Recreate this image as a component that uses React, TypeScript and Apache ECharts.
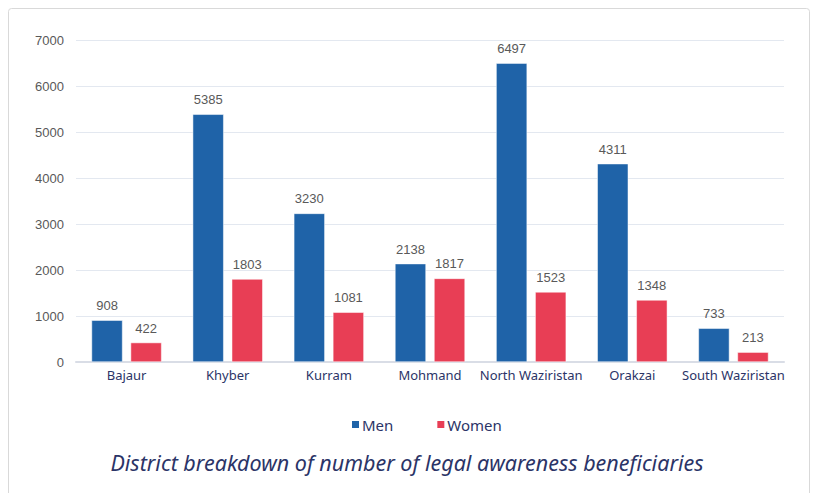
import React, { useEffect, useRef } from "react";
import * as echarts from "echarts";

const categories = ["Bajaur", "Khyber", "Kurram", "Mohmand", "North Waziristan", "Orakzai", "South Waziristan"];
const menValues = [908, 5385, 3230, 2138, 6497, 4311, 733];
const womenValues = [422, 1803, 1081, 1817, 1523, 1348, 213];
const seriesNames = ["Men", "Women"];
const titleText = "District breakdown of number of legal awareness beneficiaries";

export default function App() {
  const ref = useRef<HTMLDivElement>(null);
  useEffect(() => {
    if (!ref.current) return;
    const chart = echarts.init(ref.current, undefined, { renderer: "svg" });
    const labelStyle = {
      show: true,
      position: "top" as const,
      distance: 8,
      color: "#595959",
      fontSize: 13,
      fontFamily: "Liberation Sans, Arial, sans-serif",
    };
    chart.setOption({
      animation: false,
      backgroundColor: "#ffffff",
      graphic: [
        {
          type: "rect",
          shape: { x: 8.5, y: 8.5, width: 801, height: 500, r: 3 },
          style: { fill: "none", stroke: "#d9d9d9", lineWidth: 1 },
          silent: true,
        },
      ],
      title: {
        text: titleText,
        left: "center",
        top: 446,
        textStyle: {
          color: "#2b3467",
          fontSize: 21.5,
          fontStyle: "italic",
          fontWeight: "normal",
          fontFamily: "'Noto Sans', sans-serif",
        },
      },
      legend: {
        data: seriesNames,
        top: 412,
        left: 345,
        itemWidth: 9,
        itemHeight: 9,
        itemGap: 42,
        icon: "rect",
        textStyle: {
          color: "#2b3467",
          fontSize: 15,
          fontFamily: "'Noto Sans', sans-serif",
          padding: [0, 0, 0, -3],
        },
      },
      grid: { left: 76, right: 30, top: 40, bottom: 131 },
      xAxis: {
        type: "category",
        data: categories,
        axisLine: { lineStyle: { color: "#d9dde6", width: 2 } },
        axisTick: { show: false },
        axisLabel: {
          color: "#2b3467",
          fontSize: 13,
          margin: 6,
          interval: 0,
          fontFamily: "'Noto Sans', sans-serif",
        },
      },
      yAxis: {
        type: "value",
        min: 0,
        max: 7000,
        interval: 1000,
        axisLine: { show: false },
        axisTick: { show: false },
        splitLine: { lineStyle: { color: "#e3e8f0", width: 1 } },
        axisLabel: {
          color: "#595959",
          fontSize: 13,
          margin: 12,
          formatter: (v: number) => String(v),
          fontFamily: "Liberation Sans, Arial, sans-serif",
        },
      },
      series: [
        {
          name: seriesNames[0],
          type: "bar",
          data: menValues,
          barWidth: 31,
          barGap: "26%",
          itemStyle: { color: "#1f63a8", borderColor: "#ffffff", borderWidth: 0.5 },
          label: labelStyle,
        },
        {
          name: seriesNames[1],
          type: "bar",
          data: womenValues,
          barWidth: 31,
          itemStyle: { color: "#e83e55", borderColor: "#ffffff", borderWidth: 0.5 },
          label: labelStyle,
        },
      ],
    });
    return () => chart.dispose();
  }, []);
  return <div ref={ref} style={{ width: 814, height: 493, position: "absolute", left: 0, top: 0 }} />;
}
